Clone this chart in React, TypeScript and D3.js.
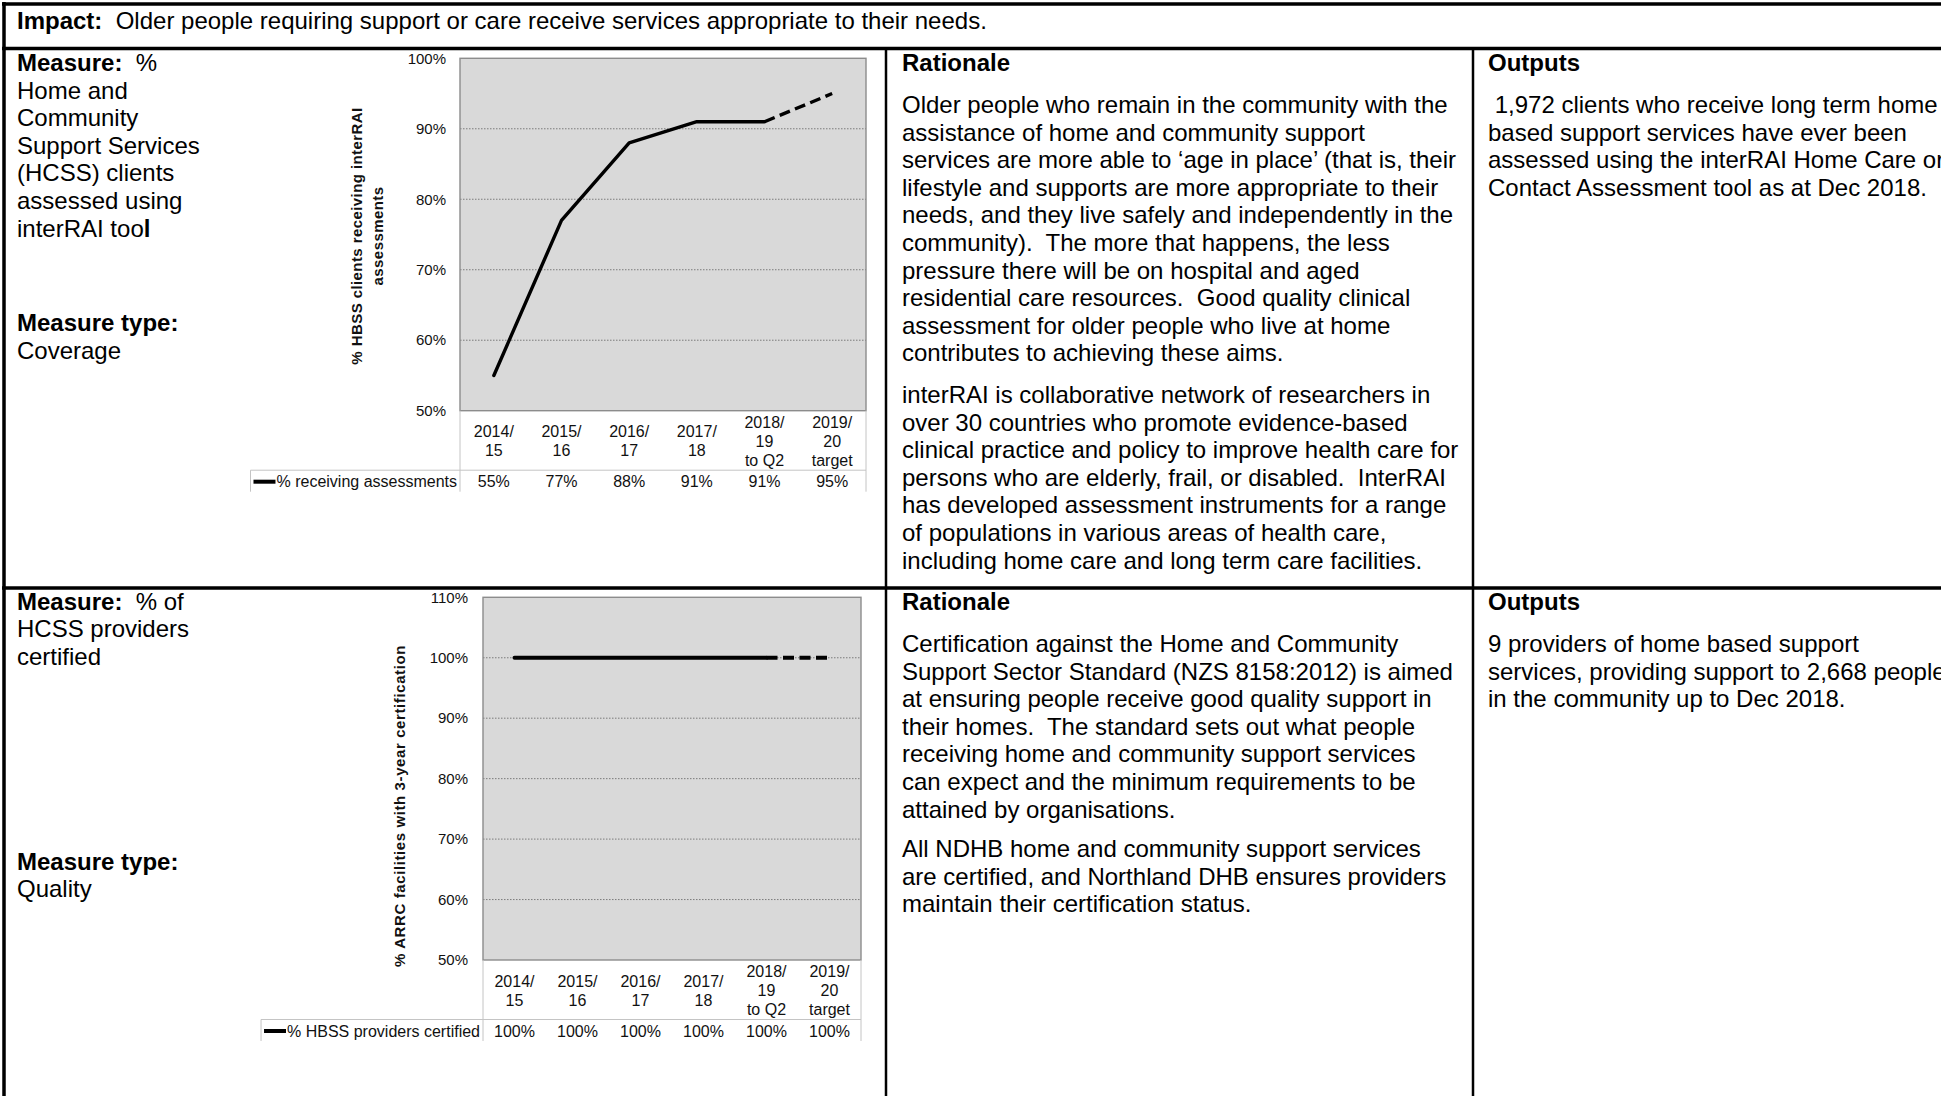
import React, { useEffect, useRef } from 'react';
import * as d3 from 'd3';

const FONT = '"Liberation Sans", Arial, Helvetica, sans-serif';
const LINE_H = 27.6;

// ---- chart data ----
const categories: string[][] = [
  ['2014/', '15'],
  ['2015/', '16'],
  ['2016/', '17'],
  ['2017/', '18'],
  ['2018/', '19', 'to Q2'],
  ['2019/', '20', 'target'],
];
const assessedPct = [55, 77, 88, 91, 91, 95];
const certifiedPct = [100, 100, 100, 100, 100, 100];
const assessedTicks = [50, 60, 70, 80, 90, 100];
const certifiedTicks = [50, 60, 70, 80, 90, 100, 110];
const assessedSeriesName = '% receiving assessments';
const certifiedSeriesName = '% HBSS providers certified';
const assessedAxisTitle = ['% HBSS clients receiving interRAI', 'assessments'];
const certifiedAxisTitle = ['% ARRC facilities with 3-year certification'];

// ---- table text ----
type Seg = [string, boolean];
const impactLine: Seg[] = [
  ['Impact:', true],
  ['  Older people requiring support or care receive services appropriate to their needs.', false],
];
const measure1Lines: Seg[][] = [
  [['Measure:', true], ['  %', false]],
  [['Home and', false]],
  [['Community', false]],
  [['Support Services', false]],
  [['(HCSS) clients', false]],
  [['assessed using', false]],
  [['interRAI too', false], ['l', true]],
];
const measure1Type: Seg[][] = [[['Measure type:', true]], [['Coverage', false]]];
const measure2Lines: Seg[][] = [
  [['Measure:', true], ['  % of', false]],
  [['HCSS providers', false]],
  [['certified', false]],
];
const measure2Type: Seg[][] = [[['Measure type:', true]], [['Quality', false]]];

const rationale1a = [
  'Older people who remain in the community with the',
  'assistance of home and community support',
  'services are more able to \u2018age in place\u2019 (that is, their',
  'lifestyle and supports are more appropriate to their',
  'needs, and they live safely and independently in the',
  'community).  The more that happens, the less',
  'pressure there will be on hospital and aged',
  'residential care resources.  Good quality clinical',
  'assessment for older people who live at home',
  'contributes to achieving these aims.',
];
const rationale1b = [
  'interRAI is collaborative network of researchers in',
  'over 30 countries who promote evidence-based',
  'clinical practice and policy to improve health care for',
  'persons who are elderly, frail, or disabled.  InterRAI',
  'has developed assessment instruments for a range',
  'of populations in various areas of health care,',
  'including home care and long term care facilities.',
];
const outputs1 = [
  ' 1,972 clients who receive long term home',
  'based support services have ever been',
  'assessed using the interRAI Home Care or',
  'Contact Assessment tool as at Dec 2018.',
];
const rationale2a = [
  'Certification against the Home and Community',
  'Support Sector Standard (NZS 8158:2012) is aimed',
  'at ensuring people receive good quality support in',
  'their homes.  The standard sets out what people',
  'receiving home and community support services',
  'can expect and the minimum requirements to be',
  'attained by organisations.',
];
const rationale2b = [
  'All NDHB home and community support services',
  'are certified, and Northland DHB ensures providers',
  'maintain their certification status.',
];
const outputs2 = [
  '9 providers of home based support',
  'services, providing support to 2,668 people',
  'in the community up to Dec 2018.',
];

interface ChartCfg {
  values: number[];
  ticks: number[];
  seriesName: string;
  axisTitle: string[];
  left: number;
  right: number;
  top: number;
  bottom: number;
  tickGap: number;
  titleX: number[];
  titleY: number;
  titleSpacing: number;
  lineWidth: number;
}

const assessedChart: ChartCfg = {
  values: assessedPct,
  ticks: assessedTicks,
  seriesName: assessedSeriesName,
  axisTitle: assessedAxisTitle,
  left: 460,
  right: 866,
  top: 58.3,
  bottom: 410.7,
  tickGap: 14,
  titleX: [357, 378],
  titleY: 236,
  titleSpacing: 0.42,
  lineWidth: 3.4,
};

const certifiedChart: ChartCfg = {
  values: certifiedPct,
  ticks: certifiedTicks,
  seriesName: certifiedSeriesName,
  axisTitle: certifiedAxisTitle,
  left: 483,
  right: 861,
  top: 597.3,
  bottom: 960,
  tickGap: 15,
  titleX: [400],
  titleY: 806,
  titleSpacing: 0.6,
  lineWidth: 4,
};

const TABLE_FONT = 16;

function drawChart(node: SVGGElement | null, cfg: ChartCfg) {
  if (!node) return;
  const g = d3.select(node);
  g.selectAll('*').remove();

  const idx = d3.range(cfg.values.length);
  const domain = d3.extent(cfg.ticks) as [number, number];
  const x = d3.scaleBand<number>().domain(idx).range([cfg.left, cfg.right]).padding(0);
  const y = d3.scaleLinear().domain(domain).range([cfg.bottom, cfg.top]);
  const cx = (i: number) => (x(i) as number) + x.bandwidth() / 2;

  // plot area
  g.append('rect')
    .attr('x', cfg.left)
    .attr('y', cfg.top)
    .attr('width', cfg.right - cfg.left)
    .attr('height', cfg.bottom - cfg.top)
    .attr('fill', '#d9d9d9');

  // dotted gridlines
  g.selectAll('line.grid')
    .data(cfg.ticks.filter((t) => t > domain[0] && t < domain[1]))
    .join('line')
    .attr('class', 'grid')
    .attr('x1', cfg.left)
    .attr('x2', cfg.right)
    .attr('y1', (d) => y(d))
    .attr('y2', (d) => y(d))
    .attr('stroke', '#707070')
    .attr('stroke-width', 0.9)
    .attr('stroke-dasharray', '1.5,1.5');

  g.append('rect')
    .attr('x', cfg.left)
    .attr('y', cfg.top)
    .attr('width', cfg.right - cfg.left)
    .attr('height', cfg.bottom - cfg.top)
    .attr('fill', 'none')
    .attr('stroke', '#8c8c8c')
    .attr('stroke-width', 1.4);

  // y tick labels
  g.selectAll('text.tick')
    .data(cfg.ticks)
    .join('text')
    .attr('class', 'tick')
    .attr('x', cfg.left - cfg.tickGap)
    .attr('y', (d) => y(d))
    .attr('dy', '0.35em')
    .attr('text-anchor', 'end')
    .attr('font-size', 15)
    .attr('fill', '#111')
    .text((d) => `${d}%`);

  // y axis title
  cfg.axisTitle.forEach((t, k) => {
    g.append('text')
      .attr('transform', `translate(${cfg.titleX[k]},${cfg.titleY}) rotate(-90)`)
      .attr('dy', '0.35em')
      .attr('text-anchor', 'middle')
      .attr('font-size', 15)
      .attr('font-weight', 'bold')
      .attr('letter-spacing', cfg.titleSpacing)
      .attr('fill', '#111')
      .text(t);
  });

  // series: actuals solid, target segment dashed
  const line = d3
    .line<number>()
    .x((i) => cx(i))
    .y((i) => y(cfg.values[i]));
  const split = cfg.values.length - 2;
  g.append('path')
    .attr('d', line(idx.slice(0, split + 1)) as string)
    .attr('fill', 'none')
    .attr('stroke', '#000')
    .attr('stroke-width', cfg.lineWidth)
    .attr('stroke-linejoin', 'round')
    .attr('stroke-linecap', 'round');
  g.append('path')
    .attr('d', line(idx.slice(split)) as string)
    .attr('fill', 'none')
    .attr('stroke', '#000')
    .attr('stroke-width', cfg.lineWidth)
    .attr('stroke-dasharray', '11,5.5');

  // data table under the plot
  const labelMid = cfg.bottom + 30.5;
  const ruleY = cfg.bottom + 59.5;
  const valueY = cfg.bottom + 71;
  const tableBottom = cfg.bottom + 81;

  idx.forEach((i) => {
    const lines = categories[i];
    lines.forEach((ln, j) => {
      g.append('text')
        .attr('x', cx(i))
        .attr('y', labelMid + (j - (lines.length - 1) / 2) * 19)
        .attr('dy', '0.35em')
        .attr('text-anchor', 'middle')
        .attr('font-size', TABLE_FONT)
        .attr('fill', '#111')
        .text(ln);
    });
  });

  g.selectAll('text.val')
    .data(idx)
    .join('text')
    .attr('class', 'val')
    .attr('x', (i) => cx(i))
    .attr('y', valueY)
    .attr('dy', '0.35em')
    .attr('text-anchor', 'middle')
    .attr('font-size', TABLE_FONT)
    .attr('fill', '#111')
    .text((i) => `${cfg.values[i]}%`);

  const legendText = g
    .append('text')
    .attr('x', cfg.left - 3)
    .attr('y', valueY)
    .attr('dy', '0.35em')
    .attr('text-anchor', 'end')
    .attr('font-size', TABLE_FONT)
    .attr('fill', '#111')
    .text(cfg.seriesName);
  const w = (legendText.node() as SVGTextElement).getComputedTextLength();
  const textStart = cfg.left - 3 - w;
  const swatchEnd = textStart - 1;
  const swatchStart = swatchEnd - 22;
  g.append('line')
    .attr('x1', swatchStart)
    .attr('x2', swatchEnd)
    .attr('y1', valueY)
    .attr('y2', valueY)
    .attr('stroke', '#000')
    .attr('stroke-width', 4);

  const tableLeft = swatchStart - 3;
  const rule = '#c4c4c4';
  const segs: [number, number, number, number][] = [
    [tableLeft, ruleY, cfg.right, ruleY],
    [cfg.left, cfg.bottom, cfg.left, tableBottom],
    [cfg.right, cfg.bottom, cfg.right, tableBottom],
    [tableLeft, ruleY, tableLeft, tableBottom],
  ];
  segs.forEach(([x1, y1, x2, y2]) => {
    g.append('line')
      .attr('x1', x1)
      .attr('y1', y1)
      .attr('x2', x2)
      .attr('y2', y2)
      .attr('stroke', rule)
      .attr('stroke-width', 1);
  });
}

function SegLines({ x, y, lines }: { x: number; y: number; lines: Seg[][] }) {
  return (
    <g>
      {lines.map((segs, i) => (
        <text key={i} x={x} y={y + i * LINE_H} dy="0.33em" fontSize={24} fill="#000" style={{ whiteSpace: 'pre' }}>
          {segs.map(([t, b], k) => (
            <tspan key={k} fontWeight={b ? 'bold' : 'normal'}>
              {t}
            </tspan>
          ))}
        </text>
      ))}
    </g>
  );
}

function Para({ x, y, lines }: { x: number; y: number; lines: string[] }) {
  return <SegLines x={x} y={y} lines={lines.map((t) => [[t, false] as Seg])} />;
}

function Heading({ x, y, text }: { x: number; y: number; text: string }) {
  return <SegLines x={x} y={y} lines={[[[text, true]]]} />;
}

export default function App() {
  const chart1 = useRef<SVGGElement>(null);
  const chart2 = useRef<SVGGElement>(null);

  useEffect(() => {
    drawChart(chart1.current, assessedChart);
    drawChart(chart2.current, certifiedChart);
  }, []);

  const colA = 17;
  const colB = 902;
  const colC = 1488;

  return (
    <div style={{ position: 'absolute', left: 0, top: 0, width: 1941, height: 1096, background: '#fff', overflow: 'hidden' }}>
      <svg width={1941} height={1096} style={{ display: 'block', fontFamily: FONT }}>
        <rect width={1941} height={1096} fill="#fff" />

        {/* table rules */}
        <g stroke="#000" fill="none">
          <line x1={2} x2={1941} y1={4} y2={4} strokeWidth={3.5} />
          <line x1={4} x2={4} y1={2} y2={1096} strokeWidth={3.5} />
          <line x1={2} x2={1941} y1={48.5} y2={48.5} strokeWidth={3.5} />
          <line x1={2} x2={1941} y1={588} y2={588} strokeWidth={3.5} />
          <line x1={886} x2={886} y1={48} y2={1096} strokeWidth={2.5} />
          <line x1={1473} x2={1473} y1={48} y2={1096} strokeWidth={2.5} />
        </g>

        <SegLines x={colA} y={21} lines={[impactLine]} />

        {/* first measure */}
        <SegLines x={colA} y={63} lines={measure1Lines} />
        <SegLines x={colA} y={323} lines={measure1Type} />
        <g ref={chart1} style={{ fontFamily: FONT }} />
        <Heading x={colB} y={63} text="Rationale" />
        <Para x={colB} y={105} lines={rationale1a} />
        <Para x={colB} y={395} lines={rationale1b} />
        <Heading x={colC} y={63} text="Outputs" />
        <Para x={colC} y={105} lines={outputs1} />

        {/* second measure */}
        <SegLines x={colA} y={601.6} lines={measure2Lines} />
        <SegLines x={colA} y={861.6} lines={measure2Type} />
        <g ref={chart2} style={{ fontFamily: FONT }} />
        <Heading x={colB} y={601.6} text="Rationale" />
        <Para x={colB} y={644} lines={rationale2a} />
        <Para x={colB} y={849} lines={rationale2b} />
        <Heading x={colC} y={601.6} text="Outputs" />
        <Para x={colC} y={644} lines={outputs2} />
      </svg>
    </div>
  );
}
